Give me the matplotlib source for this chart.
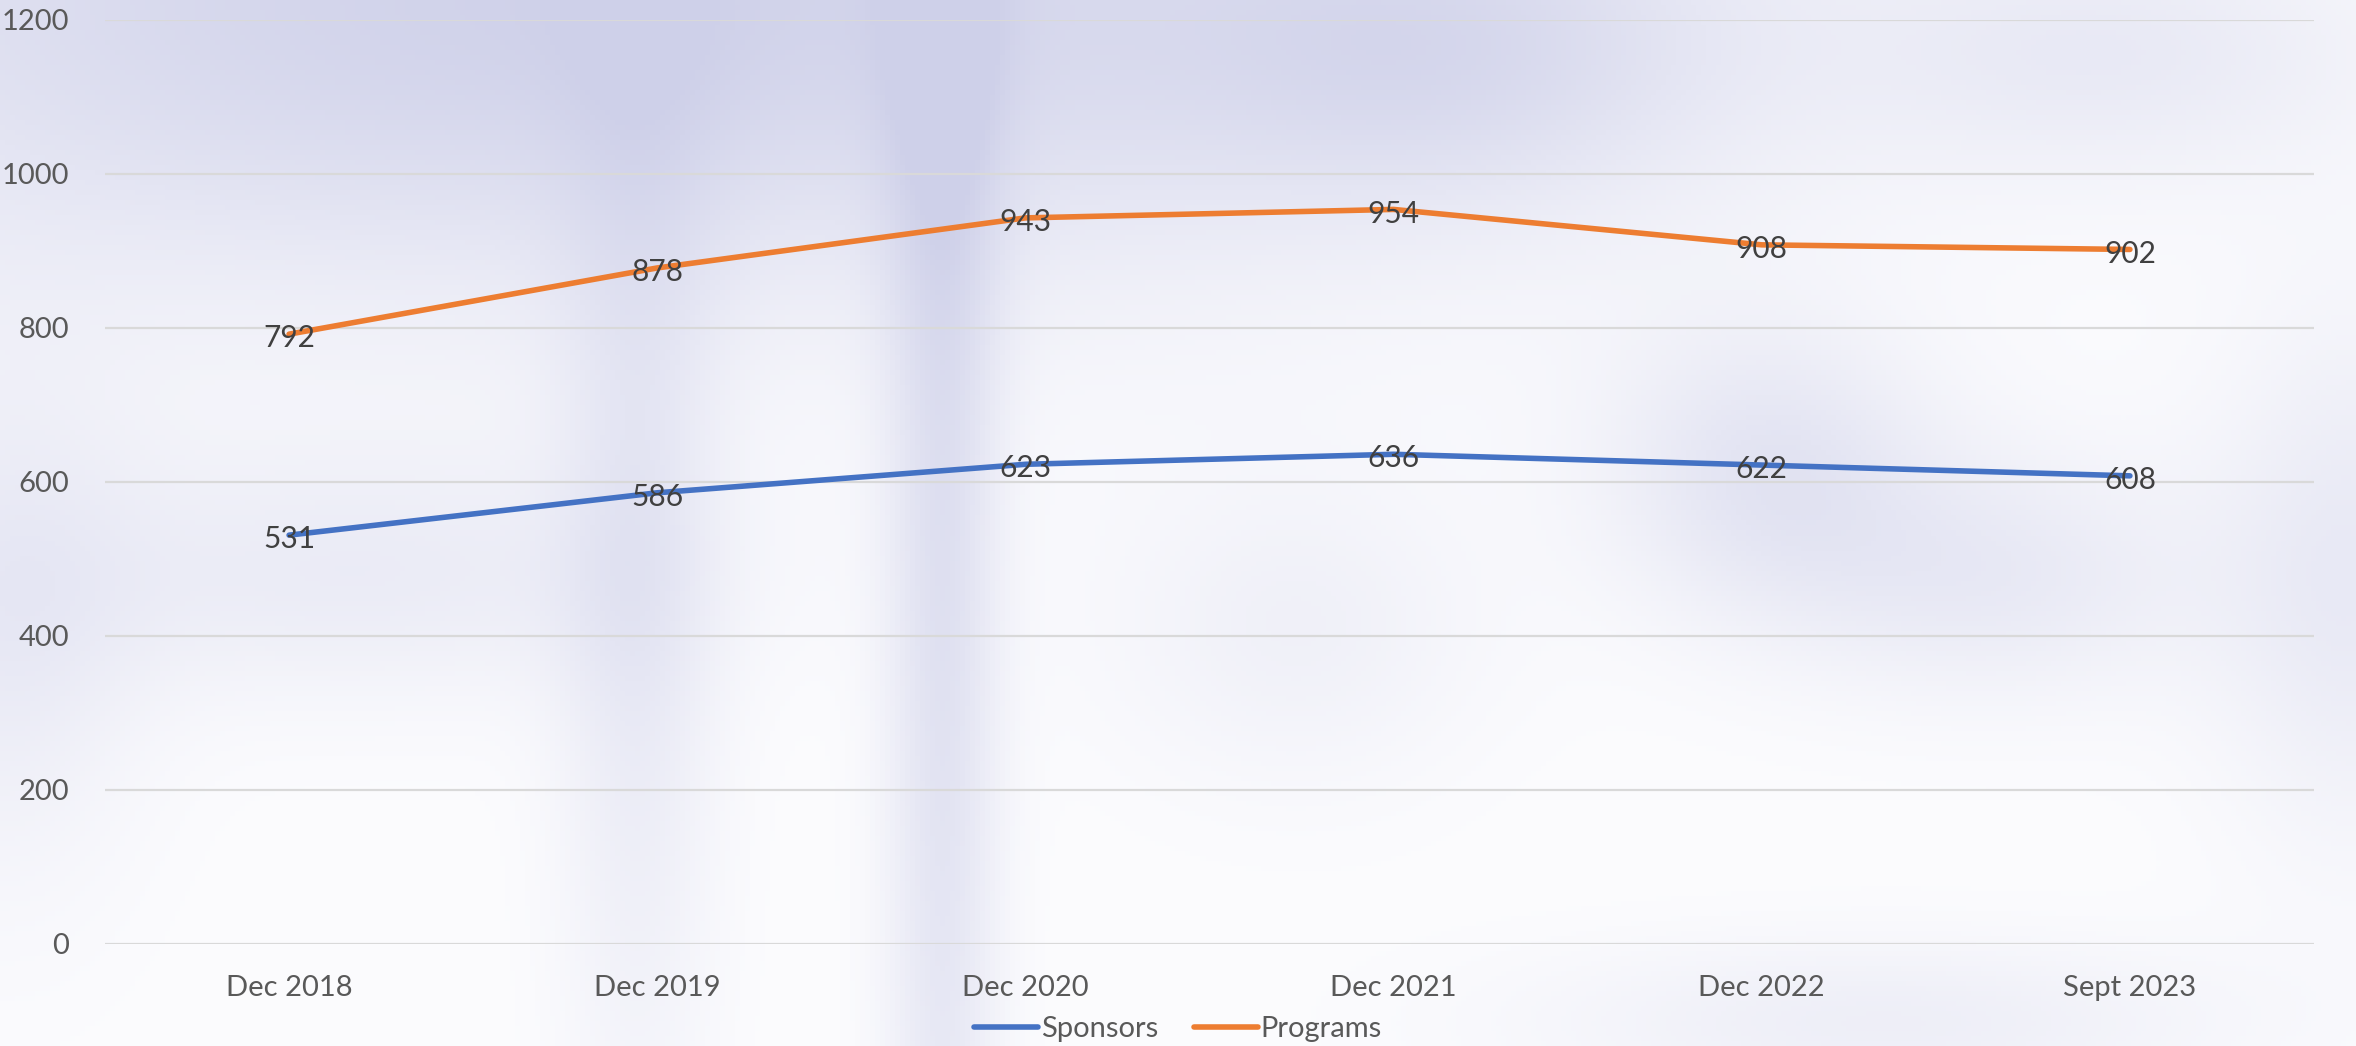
import numpy as np
import matplotlib
matplotlib.use("Agg")
import matplotlib.pyplot as plt
from matplotlib.lines import Line2D

categories = ["Dec 2018", "Dec 2019", "Dec 2020", "Dec 2021", "Dec 2022", "Sept 2023"]
sponsors = [531, 586, 623, 636, 622, 608]
programs = [792, 878, 943, 954, 908, 902]
y_ticks = [0, 200, 400, 600, 800, 1000, 1200]

plt.rcParams['font.family'] = ['Lato', 'DejaVu Sans']

W, H = 2356, 1046
fig = plt.figure(figsize=(W / 100, H / 100), dpi=100)

# soft blurred-photo style background (smooth deterministic field)
bg = fig.add_axes([0, 0, 1, 1], zorder=0)
bg.set_axis_off()
xx, yy = np.meshgrid(np.linspace(0, 1, 471), np.linspace(0, 1, 209))
def blob(cx, cy, sx, sy, a):
    return a * np.exp(-(((xx - cx) / sx) ** 2 + ((yy - cy) / sy) ** 2))
f = np.zeros_like(xx)
f += blob(0.25, 0.0, 0.40, 0.28, 0.95)
f += blob(0.40, 0.5, 0.025, 0.9, 0.6)
f += blob(0.27, 0.55, 0.035, 0.5, 0.4)
f += blob(0.15, 0.55, 0.15, 0.12, 0.35)
f += blob(0.75, 0.45, 0.07, 0.14, 0.5)
f += blob(0.85, 0.55, 0.09, 0.12, 0.4)
f += blob(1.0, 0.55, 0.06, 0.25, 0.4)
f += blob(0.62, 0.05, 0.12, 0.15, 0.45)
f += blob(0.9, 0.05, 0.12, 0.12, 0.35)
f += blob(0.0, 0.6, 0.06, 0.25, 0.35)
f += blob(0.8, 0.98, 0.15, 0.08, 0.3)
f += blob(0.55, 0.6, 0.08, 0.15, 0.25)
f = np.clip(f, 0, 1)
lav = np.array([206, 208, 233]) / 255.0
white = np.array([252, 252, 254]) / 255.0
img = white[None, None, :] * (1 - f[..., None]) + lav[None, None, :] * f[..., None]
bg.imshow(img, aspect='auto', extent=[0, 1, 0, 1], origin='upper')
bg.set_xlim(0, 1); bg.set_ylim(0, 1)

ax = fig.add_axes([105 / W, 1 - 944 / H, (2314 - 105) / W, (944 - 20) / H], zorder=1)
ax.patch.set_alpha(0)
x = np.arange(len(categories))
blue = '#4472C4'
orange = '#ED7D31'
lw = 4.0
ax.plot(x, sponsors, color=blue, lw=lw, solid_capstyle='round', zorder=3)
ax.plot(x, programs, color=orange, lw=lw, solid_capstyle='round', zorder=3)
for xi, v in zip(x, sponsors):
    ax.annotate(str(v), (xi, v), xytext=(0, -3), textcoords='offset points',
                ha='center', va='center', fontsize=21.5, color='#404040', zorder=4)
for xi, v in zip(x, programs):
    ax.annotate(str(v), (xi, v), xytext=(0, -3), textcoords='offset points',
                ha='center', va='center', fontsize=21.5, color='#404040', zorder=4)

ax.set_xlim(-0.5, len(categories) - 0.5)
ax.set_ylim(0, 1200)
ax.set_yticks(y_ticks)
ax.set_yticklabels([str(t) for t in y_ticks])
ax.set_xticks(x)
ax.set_xticklabels(categories)
ax.tick_params(axis='both', length=0, labelsize=21, labelcolor='#595959')
ax.tick_params(axis='y', pad=26)
ax.tick_params(axis='x', pad=22)
ax.grid(axis='y', color='#D9D9D9', lw=1.6)
ax.set_axisbelow(True)
for s in ax.spines.values():
    s.set_visible(False)

handles = [Line2D([0], [0], color=blue, lw=lw, solid_capstyle='round'),
           Line2D([0], [0], color=orange, lw=lw, solid_capstyle='round')]
fig.legend(handles, ['Sponsors', 'Programs'], loc='center', bbox_to_anchor=(0.5, 1 - 1029 / H),
           ncol=2, frameon=False, fontsize=21, handlelength=2.2, handletextpad=0.1,
           columnspacing=1.2, labelcolor='#595959')

fig.savefig('out.png', dpi=100)
